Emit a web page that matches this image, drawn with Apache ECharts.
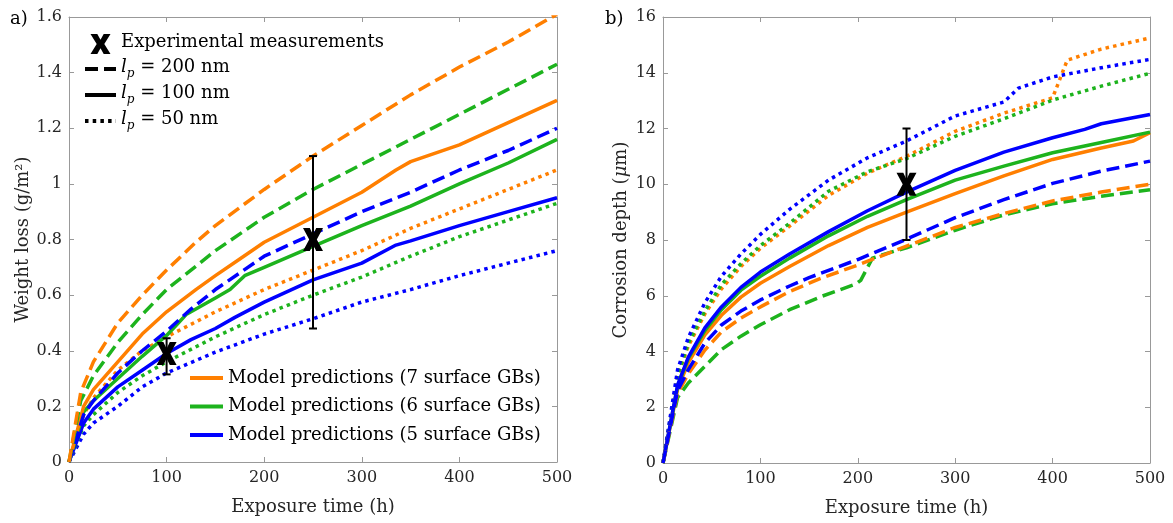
<!DOCTYPE html>
<html>
<head>
<meta charset="utf-8">
<script src="https://cdn.jsdelivr.net/npm/echarts@6/dist/echarts.min.js"></script>
<style>html,body{margin:0;padding:0;background:#fff}#c{width:1173px;height:523px}</style>
</head>
<body>
<div id="c"></div>
<script>
// ---- Panel a) Weight loss (g/m²) : [time h, value] ----
const wl7_200 = [[0,0],[12,0.25],[25,0.36],[50,0.5],[75,0.6],[100,0.69],[115,0.74],[130,0.79],[150,0.85],[200,0.98],[250,1.1],[300,1.21],[350,1.32],[400,1.42],[450,1.51],[500,1.61]];
const wl7_100 = [[0,0],[15,0.2],[25,0.26],[50,0.36],[75,0.46],[100,0.54],[130,0.62],[150,0.67],[175,0.73],[200,0.79],[250,0.88],[300,0.97],[335,1.05],[350,1.08],[400,1.14],[450,1.22],[500,1.3]];
const wl7_50  = [[0,0],[15,0.17],[25,0.23],[50,0.33],[75,0.4],[100,0.45],[150,0.54],[200,0.62],[250,0.69],[300,0.76],[350,0.84],[400,0.91],[450,0.98],[500,1.05]];
const wl6_200 = [[0,0],[12,0.22],[25,0.31],[50,0.43],[75,0.53],[100,0.62],[125,0.69],[150,0.76],[200,0.88],[250,0.98],[300,1.07],[350,1.16],[400,1.25],[450,1.34],[500,1.43]];
const wl6_100 = [[0,0],[15,0.18],[25,0.22],[50,0.3],[75,0.38],[100,0.455],[112,0.5],[120,0.53],[150,0.59],[165,0.62],[180,0.67],[200,0.7],[250,0.775],[300,0.85],[350,0.92],[400,1.0],[450,1.075],[500,1.16]];
const wl6_50  = [[0,0],[15,0.13],[25,0.17],[50,0.25],[75,0.31],[100,0.36],[150,0.45],[200,0.53],[250,0.6],[300,0.665],[350,0.74],[400,0.81],[450,0.87],[500,0.93]];
const wl5_200 = [[0,0],[15,0.17],[25,0.22],[50,0.32],[75,0.4],[100,0.47],[125,0.55],[150,0.62],[200,0.74],[250,0.82],[300,0.9],[350,0.97],[400,1.05],[450,1.12],[500,1.2]];
const wl5_100 = [[0,0],[15,0.14],[25,0.19],[50,0.27],[75,0.33],[100,0.39],[125,0.44],[150,0.48],[170,0.52],[200,0.575],[250,0.655],[300,0.715],[335,0.78],[350,0.795],[400,0.85],[450,0.9],[500,0.95]];
const wl5_50  = [[0,0],[15,0.1],[25,0.14],[50,0.2],[75,0.27],[100,0.32],[150,0.395],[200,0.46],[250,0.515],[300,0.575],[350,0.62],[400,0.67],[450,0.715],[500,0.76]];
// experimental weight loss
const wlExpTime = [100, 250];
const wlExpMean = [0.39, 0.8];
const wlExpLow  = [0.315, 0.48];
const wlExpHigh = [0.445, 1.1];

// ---- Panel b) Corrosion depth (µm) ----
const cd7_200 = [[0,0],[15,2.5],[26,3.2],[43,4.05],[60,4.7],[80,5.2],[100,5.6],[130,6.15],[160,6.6],[200,7.1],[250,7.78],[300,8.45],[350,8.95],[400,9.4],[450,9.72],[500,10.0]];
const cd7_100 = [[0,0],[15,2.65],[26,3.6],[43,4.6],[60,5.3],[80,5.95],[100,6.45],[130,7.05],[170,7.8],[210,8.45],[250,9.0],[300,9.66],[350,10.3],[400,10.89],[450,11.3],[483,11.55],[500,11.85]];
const cd7_50  = [[0,0],[15,3.1],[26,4.2],[43,5.35],[60,6.25],[80,7.05],[100,7.7],[130,8.5],[170,9.6],[210,10.4],[250,11.0],[300,11.9],[350,12.55],[400,13.1],[415,14.45],[450,14.85],[500,15.25]];
const cd6_200 = [[0,0],[15,2.35],[26,2.87],[43,3.47],[60,4.07],[80,4.55],[100,4.96],[130,5.5],[163,5.98],[198,6.42],[203,6.55],[215,7.35],[230,7.52],[250,7.72],[300,8.35],[350,8.9],[400,9.3],[450,9.57],[500,9.8]];
const cd6_100 = [[0,0],[15,2.75],[26,3.75],[43,4.75],[60,5.5],[80,6.2],[100,6.7],[130,7.35],[170,8.15],[210,8.85],[250,9.45],[300,10.15],[350,10.65],[400,11.13],[450,11.5],[500,11.87]];
const cd6_50  = [[0,0],[15,3.15],[26,4.3],[43,5.45],[60,6.4],[80,7.15],[100,7.8],[130,8.6],[170,9.75],[210,10.45],[250,10.92],[300,11.72],[350,12.35],[400,13.02],[450,13.52],[500,13.98]];
const cd5_200 = [[0,0],[15,2.6],[26,3.35],[43,4.3],[60,4.95],[80,5.45],[100,5.85],[130,6.35],[150,6.65],[200,7.3],[250,8.03],[300,8.8],[350,9.45],[400,10.03],[450,10.47],[500,10.83]];
const cd5_100 = [[0,0],[15,2.8],[26,3.8],[43,4.85],[60,5.6],[80,6.3],[100,6.85],[130,7.5],[170,8.3],[210,9.05],[250,9.72],[300,10.5],[350,11.15],[400,11.67],[433,11.97],[450,12.17],[500,12.5]];
const cd5_50  = [[0,0],[15,3.35],[26,4.5],[43,5.75],[60,6.7],[80,7.5],[100,8.2],[130,9.1],[170,10.15],[210,10.95],[250,11.55],[300,12.45],[350,12.95],[365,13.45],[400,13.85],[450,14.18],[500,14.48]];
// experimental corrosion depth
const cdExpTime = [250];
const cdExpMean = [10];
const cdExpLow  = [8];
const cdExpHigh = [12];

// axis ticks
const xTicks = [0, 100, 200, 300, 400, 500];
const wlTicks = [0, 0.2, 0.4, 0.6, 0.8, 1, 1.2, 1.4, 1.6];
const cdTicks = [0, 2, 4, 6, 8, 10, 12, 14, 16];

const ORANGE = '#ff7f00', GREEN = '#1db31d', BLUE = '#0000ff';
const FONT = 'DejaVu Serif';
const DASH = [13, 6], DOT = [3.5, 4.2];
const LW = 3.5;
const AXC = '#999999', LBL = '#262626';

const chart = echarts.init(document.getElementById('c'), null, {renderer: 'canvas'});

function ln(id, data, color, dash, gi) {
  return {
    type: 'line', id: id, name: id, data: data,
    xAxisIndex: gi * 2, yAxisIndex: gi * 2,
    symbol: 'none', showSymbol: false, smooth: false,
    lineStyle: {color: color, width: LW, type: dash, cap: 'butt', join: 'round'},
    itemStyle: {color: color}, z: 3, silent: true
  };
}
function legendLine(name, color, dash) {
  return {type: 'line', name: name, data: [], xAxisIndex: 0, yAxisIndex: 0, symbol: 'none',
    lineStyle: {color: color, width: 4, type: dash, cap: 'butt'}, itemStyle: {color: color}};
}
const XPATH = 'path://M0,0 L3.4,0 L5,2.9 L6.6,0 L10,0 L6.9,5 L10,10 L6.6,10 L5,7.1 L3.4,10 L0,10 L3.1,5 Z';

function errSeries(times, low, high, gi) {
  return {
    type: 'custom', xAxisIndex: gi * 2, yAxisIndex: gi * 2, z: 5, silent: true,
    data: times.map((t, i) => [t, low[i], high[i]]),
    encode: {x: 0, y: [1, 2]},
    renderItem: function (params, api) {
      const a = api.coord([api.value(0), api.value(1)]);
      const b = api.coord([api.value(0), api.value(2)]);
      const w = 4, st = {stroke: '#000', lineWidth: 2};
      return {type: 'group', children: [
        {type: 'line', shape: {x1: a[0], y1: a[1], x2: b[0], y2: b[1]}, style: st},
        {type: 'line', shape: {x1: a[0] - w, y1: a[1], x2: a[0] + w, y2: a[1]}, style: st},
        {type: 'line', shape: {x1: b[0] - w, y1: b[1], x2: b[0] + w, y2: b[1]}, style: st}
      ]};
    }
  };
}
function expSeries(times, mean, gi) {
  return {type: 'scatter', name: 'Experimental measurements', xAxisIndex: gi * 2, yAxisIndex: gi * 2,
    data: times.map((t, i) => [t, mean[i]]), symbol: XPATH, symbolSize: [20, 23],
    itemStyle: {color: '#000', opacity: 1}, z: 6, silent: true};
}

function xAxes(gi) {
  return [
    {gridIndex: gi, type: 'value', min: 0, max: 500, interval: 100, position: 'bottom',
     name: 'Exposure time (h)', nameLocation: 'middle', nameGap: 36,
     nameTextStyle: {fontFamily: FONT, fontSize: 18, color: LBL},
     axisLine: {show: true, onZero: false, lineStyle: {color: AXC, width: 1}},
     axisTick: {show: true, inside: true, length: 5, lineStyle: {color: AXC}},
     axisLabel: {fontFamily: FONT, fontSize: 16, color: LBL, margin: 8,
       formatter: v => xTicks.includes(v) ? String(v) : ''},
     splitLine: {show: false}},
    {gridIndex: gi, type: 'value', min: 0, max: 500, interval: 100, position: 'top',
     axisLine: {show: true, onZero: false, lineStyle: {color: AXC, width: 1}},
     axisTick: {show: true, inside: true, length: 5, lineStyle: {color: AXC}},
     axisLabel: {show: false}, splitLine: {show: false}}
  ];
}
function yAxes(gi, max, interval, ticks, name, gap, rich) {
  return [
    {gridIndex: gi, type: 'value', min: 0, max: max, interval: interval, position: 'left',
     name: name, nameLocation: 'middle', nameGap: gap, nameRotate: 90,
     nameTextStyle: {fontFamily: FONT, fontSize: 18, color: LBL, rich: rich},
     axisLine: {show: true, onZero: false, lineStyle: {color: AXC, width: 1}},
     axisTick: {show: true, inside: true, length: 5, lineStyle: {color: AXC}},
     axisLabel: {fontFamily: FONT, fontSize: 16, color: LBL, margin: 7,
       formatter: v => { const m = ticks.find(t => Math.abs(t - v) < 1e-9); return m === undefined ? '' : String(m); }},
     splitLine: {show: false}},
    {gridIndex: gi, type: 'value', min: 0, max: max, interval: interval, position: 'right',
     axisLine: {show: true, onZero: false, lineStyle: {color: AXC, width: 1}},
     axisTick: {show: true, inside: true, length: 5, lineStyle: {color: AXC}},
     axisLabel: {show: false}, splitLine: {show: false}}
  ];
}

const lpNames = {
  'Experimental measurements': '{n|Experimental measurements}',
  lp200: '{i|l}{s|p}{n| = 200 nm}', lp100: '{i|l}{s|p}{n| = 100 nm}', lp50: '{i|l}{s|p}{n| = 50 nm}'
};
const hideSym = {opacity: 0};
const modelNames = ['Model predictions (7 surface GBs)', 'Model predictions (6 surface GBs)', 'Model predictions (5 surface GBs)'];

const option = {
  animation: false,
  backgroundColor: '#ffffff',
  title: [
    {text: 'a)', left: 5, top: 5, textStyle: {fontFamily: FONT, fontSize: 18, fontWeight: 'normal', color: '#000'}},
    {text: 'b)', left: 600, top: 5, textStyle: {fontFamily: FONT, fontSize: 18, fontWeight: 'normal', color: '#000'}}
  ],
  grid: [
    {left: 69, right: 616, top: 17, bottom: 61, containLabel: false},
    {left: 663, right: 23, top: 17, bottom: 60, containLabel: false}
  ],
  xAxis: [...xAxes(0), ...xAxes(1)],
  yAxis: [
    ...yAxes(0, 1.6, 0.2, wlTicks, 'Weight loss (g/m²)', 36, {}),
    ...yAxes(1, 16, 2, cdTicks, 'Corrosion depth ({m|μ}m)', 33,
      {m: {fontFamily: FONT, fontSize: 18, fontStyle: 'italic', color: LBL}})
  ],
  legend: [
    {orient: 'vertical', left: 83, top: 33, padding: 0, itemWidth: 31, itemHeight: 20, itemGap: 4,
     lineStyle: {width: 4},
     data: [
       {name: 'Experimental measurements'},
       {name: 'lp200', itemStyle: hideSym},
       {name: 'lp100', itemStyle: hideSym},
       {name: 'lp50', itemStyle: hideSym}
     ],
     formatter: n => lpNames[n] || n,
     selectedMode: false,
     textStyle: {fontFamily: FONT, fontSize: 18, color: '#000',
       rich: {
         i: {fontFamily: FONT, fontSize: 18, fontStyle: 'italic', color: '#000', verticalAlign: 'bottom', padding: [0, 0, 4, 0]},
         s: {fontFamily: FONT, fontSize: 12, fontStyle: 'italic', color: '#000', verticalAlign: 'bottom', padding: [0, 0, 0, 0]},
         n: {fontFamily: FONT, fontSize: 18, color: '#000', verticalAlign: 'bottom', padding: [0, 0, 4, 0]}
       }}},
    {orient: 'vertical', left: 188, top: 369, padding: 0, itemWidth: 33, itemHeight: 20, itemGap: 10.5,
     lineStyle: {width: 4},
     data: modelNames.map(n => ({name: n, itemStyle: hideSym})),
     selectedMode: false,
     textStyle: {fontFamily: FONT, fontSize: 18, color: '#000'}}
  ],
  series: [
    legendLine('lp200', '#000', DASH),
    legendLine('lp100', '#000', 'solid'),
    legendLine('lp50', '#000', DOT),
    legendLine(modelNames[0], ORANGE, 'solid'),
    legendLine(modelNames[1], GREEN, 'solid'),
    legendLine(modelNames[2], BLUE, 'solid'),
    // panel a
    ln('wl5_50', wl5_50, BLUE, DOT, 0),
    ln('wl6_50', wl6_50, GREEN, DOT, 0),
    ln('wl7_50', wl7_50, ORANGE, DOT, 0),
    ln('wl5_100', wl5_100, BLUE, 'solid', 0),
    ln('wl6_100', wl6_100, GREEN, 'solid', 0),
    ln('wl7_100', wl7_100, ORANGE, 'solid', 0),
    ln('wl5_200', wl5_200, BLUE, DASH, 0),
    ln('wl6_200', wl6_200, GREEN, DASH, 0),
    ln('wl7_200', wl7_200, ORANGE, DASH, 0),
    errSeries(wlExpTime, wlExpLow, wlExpHigh, 0),
    expSeries(wlExpTime, wlExpMean, 0),
    // panel b
    ln('cd7_50', cd7_50, ORANGE, DOT, 1),
    ln('cd6_50', cd6_50, GREEN, DOT, 1),
    ln('cd5_50', cd5_50, BLUE, DOT, 1),
    ln('cd7_100', cd7_100, ORANGE, 'solid', 1),
    ln('cd6_100', cd6_100, GREEN, 'solid', 1),
    ln('cd5_100', cd5_100, BLUE, 'solid', 1),
    ln('cd6_200', cd6_200, GREEN, DASH, 1),
    ln('cd7_200', cd7_200, ORANGE, DASH, 1),
    ln('cd5_200', cd5_200, BLUE, DASH, 1),
    errSeries(cdExpTime, cdExpLow, cdExpHigh, 1),
    expSeries(cdExpTime, cdExpMean, 1)
  ]
};
chart.setOption(option);
</script>
</body>
</html>
